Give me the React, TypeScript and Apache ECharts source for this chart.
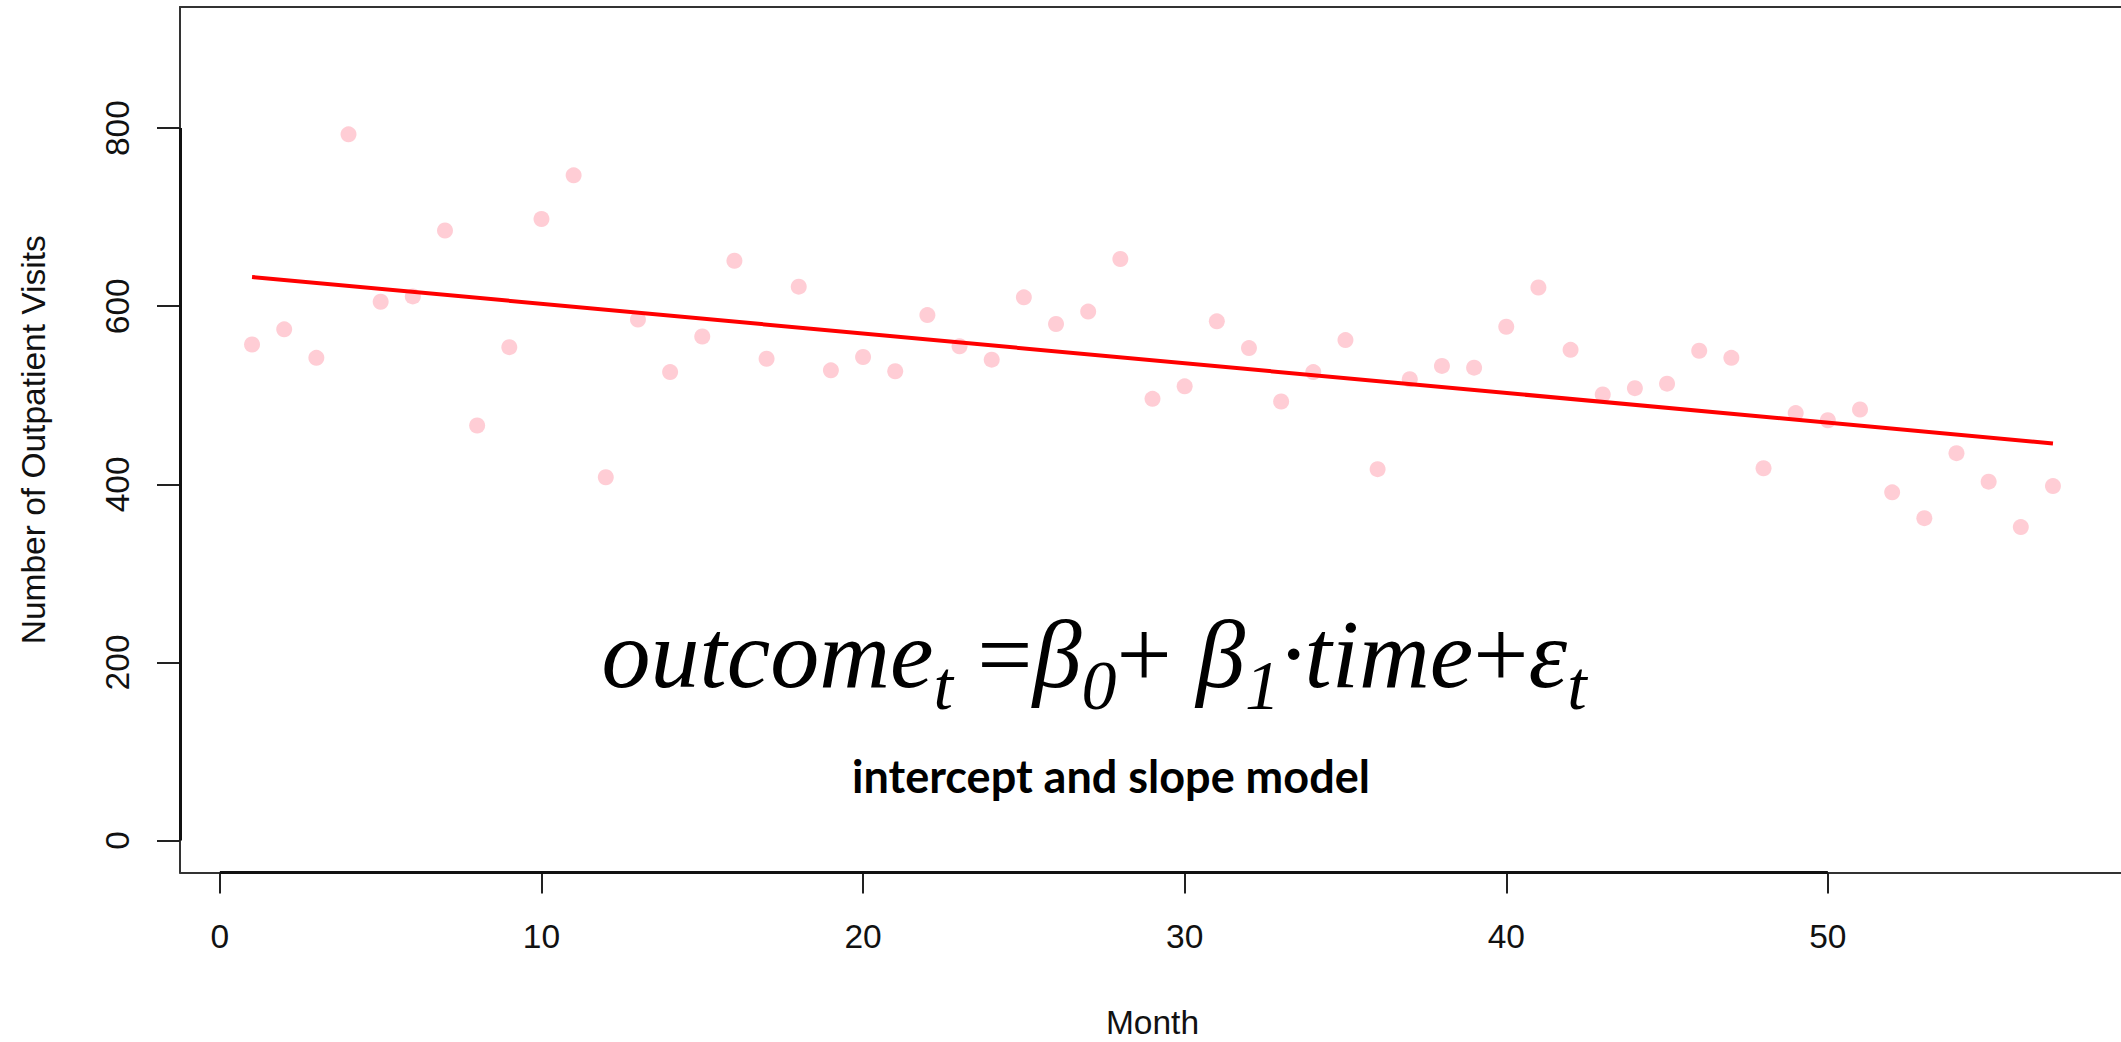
import React, { useEffect, useRef } from "react";
import * as echarts from "echarts";

// Month index (x) and number of outpatient visits (y)
const months = [
  1, 2, 3, 4, 5, 6, 7, 8, 9, 10, 11, 12, 13, 14, 15, 16, 17, 18, 19, 20,
  21, 22, 23, 24, 25, 26, 27, 28, 29, 30, 31, 32, 33, 34, 35, 36, 37, 38, 39, 40,
  41, 42, 43, 44, 45, 46, 47, 48, 49, 50, 51, 52, 53, 54, 55, 56, 57,
];
const visits = [
  557, 574, 542, 793, 605, 611, 685, 466, 554, 698,
  747, 408, 585, 526, 566, 651, 541, 622, 528, 543,
  527, 590, 555, 540, 610, 580, 594, 653, 496, 510,
  583, 553, 493, 526, 562, 417, 518, 533, 531, 577,
  621, 551, 501, 508, 513, 550, 542, 418, 480, 472,
  484, 391, 362, 435, 403, 352, 398,
];

// Fitted trend line (end points)
const trendMonths = [1, 57];
const trendValues = [632.8, 445.8];

// Axes
const xTicks = [0, 10, 20, 30, 40, 50];
const yTicks = [0, 200, 400, 600, 800];
const xRange = [-1.24, 59.24];
const yRange = [-36, 936];

const xLabel = "Month";
const yLabel = "Number of Outpatient Visits";
const subtitle = "intercept and slope model";

const SANS = "'Liberation Sans', Arial, Helvetica, sans-serif";
const SERIF = "'Liberation Serif', 'Times New Roman', serif";

export default function App() {
  const ref = useRef<HTMLDivElement>(null);

  useEffect(() => {
    if (!ref.current) return;
    const chart = echarts.init(ref.current, null, { renderer: "svg" });

    const scatterData = months.map((m, i) => [m, visits[i]]);
    const trendData = trendMonths.map((m, i) => [m, trendValues[i]]);

    const axisText = { fontFamily: SANS, fontSize: 33.5, color: "#111" };
    const boxLine = { show: true, onZero: false, lineStyle: { color: "#333", width: 2 } };

    const option: any = {
      animation: false,
      backgroundColor: "#ffffff",
      grid: {
        left: 180,
        top: 7,
        width: 1945,
        height: 865.6,
        show: false,
        containLabel: false,
        outerBoundsMode: "none",
      },
      xAxis: [
        {
          type: "value",
          position: "bottom",
          min: xRange[0],
          max: xRange[1],
          axisLine: boxLine,
          axisTick: {
            show: true,
            customValues: xTicks,
            length: 21,
            lineStyle: { color: "#222", width: 2 },
          },
          axisLabel: { customValues: xTicks, margin: 47, ...axisText },
          splitLine: { show: false },
          name: xLabel,
          nameLocation: "middle",
          nameGap: 133,
          nameTextStyle: { ...axisText },
        },
        {
          type: "value",
          position: "top",
          min: xRange[0],
          max: xRange[1],
          axisLine: boxLine,
          axisTick: { show: false },
          axisLabel: { show: false },
          splitLine: { show: false },
        },
      ],
      yAxis: {
        type: "value",
        min: yRange[0],
        max: yRange[1],
        axisLine: boxLine,
        axisTick: {
          show: true,
          customValues: yTicks,
          length: 23,
          lineStyle: { color: "#222", width: 2 },
        },
        axisLabel: { customValues: yTicks, margin: 46, rotate: 90, ...axisText },
        splitLine: { show: false },
        name: yLabel,
        nameLocation: "middle",
        nameGap: 130,
        nameRotate: 90,
        nameTextStyle: { ...axisText },
      },
      series: [
        {
          type: "scatter",
          xAxisIndex: 0,
          data: scatterData,
          symbol: "circle",
          symbolSize: 16,
          itemStyle: { color: "#FFC0CB" },
          clip: false,
          z: 2,
          markLine: {
            silent: true,
            symbol: "none",
            label: { show: false },
            lineStyle: { color: "#111", width: 3, type: "solid" },
            data: [
              [
                { coord: [xTicks[0], yRange[0]] },
                { coord: [xTicks[xTicks.length - 1], yRange[0]] },
              ],
              [
                { coord: [xRange[0], yTicks[0]] },
                { coord: [xRange[0], yTicks[yTicks.length - 1]] },
              ],
            ],
          },
        },
        {
          type: "line",
          xAxisIndex: 0,
          data: trendData,
          showSymbol: false,
          symbol: "none",
          lineStyle: { color: "#FF0000", width: 4 },
          z: 3,
        },
      ],
      graphic: [
        {
          type: "text",
          x: 1094,
          y: 654,
          z: 10,
          style: {
            text:
              "{m|outcome}{s|t}{u| =}{m|β}{s|0}{u|+ }{m|β}{s|1}{m|·time}{u|+}{m|ε}{s|t}",
            textAlign: "center",
            textVerticalAlign: "middle",
            fontFamily: SERIF,
            fontSize: 98,
            fill: "#000",
            rich: {
              m: { fontFamily: SERIF, fontStyle: "italic", fontSize: 98, fill: "#000" },
              u: { fontFamily: SERIF, fontStyle: "normal", fontSize: 98, fill: "#000" },
              s: {
                fontFamily: SERIF,
                fontStyle: "italic",
                fontSize: 70,
                fill: "#000",
                padding: [63, 0, 0, 0],
              },
            },
          },
        },
        {
          type: "text",
          x: 1111,
          y: 776,
          z: 10,
          style: {
            text: subtitle,
            textAlign: "center",
            textVerticalAlign: "middle",
            fontFamily: "Lato, 'Open Sans', sans-serif",
            fontWeight: "bold",
            fontSize: 45,
            fill: "#000",
          },
        },
      ],
    };

    chart.setOption(option);
    return () => chart.dispose();
  }, []);

  return (
    <div
      ref={ref}
      style={{ position: "absolute", left: 0, top: 0, width: 2121, height: 1042 }}
    />
  );
}
